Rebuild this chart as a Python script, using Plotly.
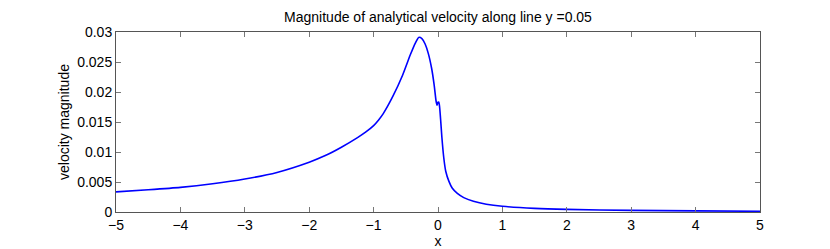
import plotly.graph_objects as go

x_vals = [-5, -4.5, -4, -3.5, -3, -2.5, -2, -1.75, -1.5, -1.25, -1.125, -1, -0.925, -0.85,
          -0.7, -0.55, -0.43, -0.35, -0.3, -0.25, -0.2, -0.15, -0.1, -0.06, -0.03, -0.015,
          0.0, 0.012, 0.025, 0.04, 0.06, 0.09, 0.12, 0.17, 0.22, 0.3, 0.4, 0.55, 0.75,
          1, 1.5, 2, 3, 4, 5]
velocity = [0.00335, 0.0037, 0.0041, 0.0047, 0.0055, 0.0066, 0.0083, 0.0094, 0.0108,
            0.0124, 0.0133, 0.0144, 0.0153, 0.0164, 0.0193, 0.0228, 0.0262, 0.0282,
            0.0291, 0.0289, 0.0280, 0.0264, 0.0240, 0.0212, 0.0185, 0.0178, 0.0183,
            0.0183, 0.0175, 0.0155, 0.0125, 0.0090, 0.0068, 0.0051, 0.0040, 0.0031,
            0.0024, 0.0018, 0.0013, 0.00095, 0.0006, 0.00043, 0.00027, 0.00018, 0.00012]

x_ticks = [-5, -4, -3, -2, -1, 0, 1, 2, 3, 4, 5]
y_ticks = [0, 0.005, 0.01, 0.015, 0.02, 0.025, 0.03]
y_tick_labels = ["0", "0.005", "0.01", "0.015", "0.02", "0.025", "0.03"]

FONT = "Liberation Sans, Arial, Helvetica, sans-serif"

fig = go.Figure()
fig.add_trace(go.Scatter(x=x_vals, y=velocity, mode="lines",
                         line=dict(color="#0000ff", width=1.6, shape="spline", smoothing=0.6),
                         showlegend=False, hoverinfo="skip"))

axis_common = dict(showline=True, linecolor="#555555", linewidth=1, mirror="ticks",
                   ticks="inside", ticklen=5, tickcolor="#777777", tickwidth=1,
                   showgrid=False, zeroline=False,
                   tickfont=dict(family=FONT, size=14, color="black"))

fig.update_layout(
    width=830, height=249,
    margin=dict(l=108, r=78, t=24, b=33),
    paper_bgcolor="white", plot_bgcolor="white",
    font=dict(family=FONT, color="black"),
    title=dict(text="Magnitude of analytical velocity along line y =0.05",
               x=0.5, xref="paper", xanchor="center",
               y=1 - 9 / 249, yref="container", yanchor="middle",
               font=dict(family=FONT, size=14, color="black")),
    xaxis=dict(range=[-5, 5], tickmode="array", tickvals=x_ticks,
               title=dict(text="x", font=dict(family=FONT, size=14), standoff=2),
               **axis_common),
    yaxis=dict(range=[0, 0.03], tickmode="array", tickvals=y_ticks, ticktext=y_tick_labels,
               title=dict(text="velocity magnitude", font=dict(family=FONT, size=14), standoff=4),
               **axis_common),
)

fig.write_html("out.html")
